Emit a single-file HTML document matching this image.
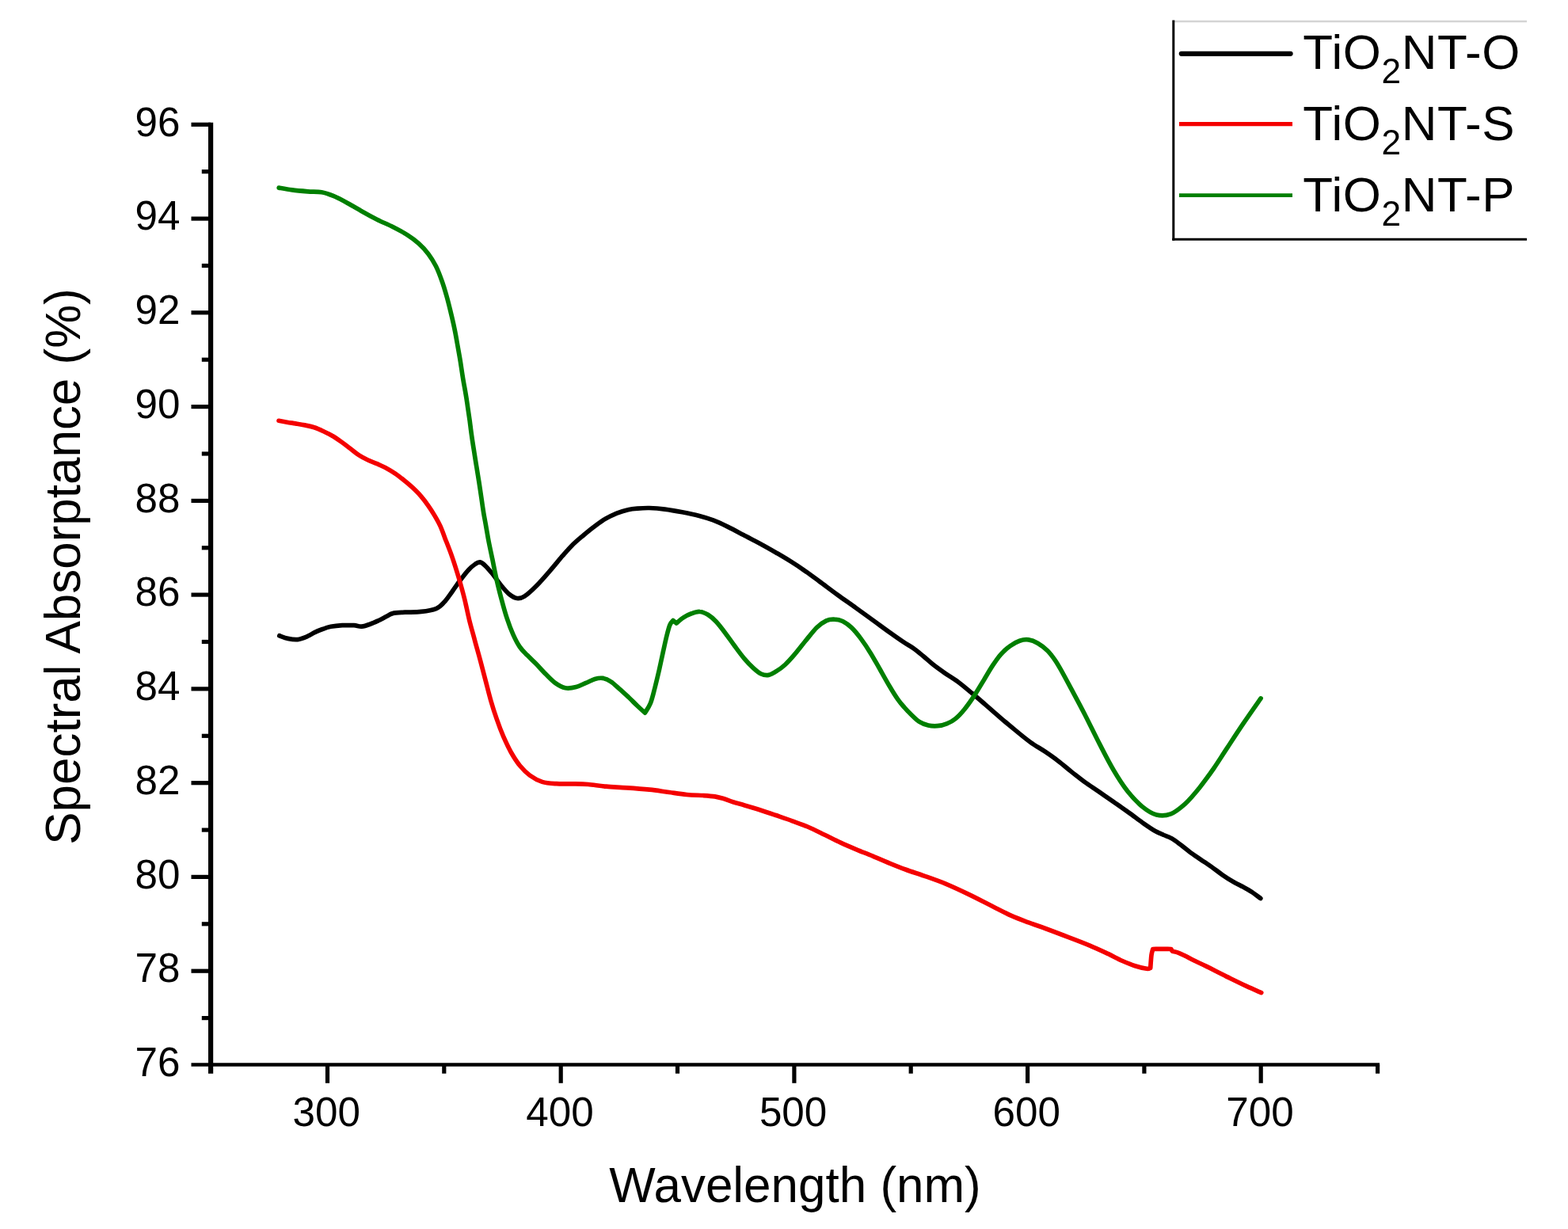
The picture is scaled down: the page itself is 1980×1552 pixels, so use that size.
<!DOCTYPE html>
<html><head><meta charset="utf-8"><title>Spectral Absorptance</title>
<style>
html,body{margin:0;padding:0;background:#fff;}
svg{display:block;}
text{font-family:"Liberation Sans",Arial,Helvetica,sans-serif;fill:#000;}
</style></head><body>
<svg width="1980" height="1552" viewBox="0 0 1980 1552">
<rect x="0" y="0" width="1980" height="1552" fill="#fff"/>
<g fill="none" stroke-linejoin="round" stroke-linecap="round">
<path d="M352.8,802.8 C354.6,803.4 359.6,805.6 363.5,806.4 C367.3,807.2 371.7,808.1 375.8,807.6 C379.9,807.2 384.4,805.2 388.0,803.7 C391.6,802.2 394.0,800.2 397.3,798.6 C400.6,797.0 404.5,795.5 407.9,794.3 C411.3,793.0 413.7,792.1 417.7,791.3 C421.8,790.6 427.4,790.0 432.2,789.7 C437.1,789.5 442.9,789.5 446.9,789.7 C451.0,789.9 453.2,791.4 456.7,791.1 C460.2,790.8 464.2,789.3 467.8,788.0 C471.4,786.8 474.9,785.1 478.3,783.5 C481.8,781.8 485.4,779.7 488.3,778.2 C491.2,776.8 491.9,775.4 495.8,774.6 C499.7,773.7 505.4,773.6 511.4,773.2 C517.4,772.9 525.3,773.2 531.8,772.4 C538.4,771.7 545.9,770.6 550.8,768.6 C555.6,766.6 557.6,763.9 561.0,760.3 C564.3,756.8 567.5,751.8 570.9,747.2 C574.3,742.5 577.8,737.1 581.3,732.5 C584.8,728.0 588.5,723.0 591.6,719.7 C594.7,716.3 597.5,714.1 599.9,712.5 C602.3,710.8 603.8,709.6 606.0,709.9 C608.1,710.3 610.0,711.8 612.7,714.3 C615.4,716.8 618.8,720.9 622.2,725.0 C625.5,729.2 629.3,735.0 632.8,739.2 C636.3,743.5 639.9,747.8 643.2,750.5 C646.6,753.2 649.6,755.1 652.8,755.5 C656.1,755.9 658.7,755.3 662.6,752.8 C666.6,750.4 671.2,746.0 676.4,740.8 C681.6,735.6 688.0,728.3 693.6,721.8 C699.2,715.4 705.3,707.8 710.1,702.2 C715.0,696.6 718.5,692.5 722.6,688.4 C726.8,684.3 730.6,681.2 734.8,677.6 C739.0,674.1 743.0,670.6 747.8,667.0 C752.5,663.4 758.0,659.1 763.2,655.9 C768.3,652.8 773.9,650.2 778.9,648.1 C783.9,646.1 788.7,644.7 793.1,643.7 C797.4,642.6 800.5,642.4 805.0,642.1 C809.5,641.7 814.2,641.4 820.0,641.5 C825.8,641.7 832.6,642.2 839.6,643.1 C846.5,644.0 854.5,645.4 861.6,646.7 C868.7,648.1 875.7,649.5 882.2,651.2 C888.7,652.9 894.5,654.6 900.6,656.9 C906.7,659.2 912.5,662.0 918.8,665.1 C925.2,668.2 931.9,671.9 938.8,675.6 C945.8,679.3 953.5,683.2 960.6,687.0 C967.8,690.9 975.3,695.2 981.6,698.8 C987.9,702.5 992.8,705.4 998.4,708.9 C1004.0,712.4 1008.9,715.6 1014.9,719.8 C1021.0,724.0 1027.4,728.8 1034.6,734.1 C1041.8,739.4 1050.5,746.0 1058.2,751.6 C1065.9,757.2 1073.2,762.1 1080.9,767.7 C1088.6,773.2 1097.1,779.4 1104.4,784.8 C1111.7,790.1 1118.8,795.4 1124.9,799.7 C1130.9,804.0 1136.0,807.6 1140.7,810.7 C1145.3,813.8 1148.8,815.5 1153.0,818.4 C1157.2,821.4 1161.6,825.1 1165.8,828.5 C1170.0,832.0 1173.6,835.5 1178.1,839.0 C1182.6,842.6 1187.6,846.1 1192.9,849.8 C1198.2,853.5 1204.2,857.0 1210.0,861.2 C1215.7,865.5 1221.7,870.6 1227.3,875.3 C1232.9,880.0 1238.0,884.4 1243.8,889.4 C1249.6,894.4 1255.8,899.9 1262.1,905.3 C1268.4,910.8 1275.2,916.6 1281.8,921.9 C1288.3,927.3 1295.1,932.9 1301.4,937.5 C1307.8,942.0 1313.9,945.3 1319.7,949.2 C1325.5,953.1 1330.8,956.8 1336.2,961.0 C1341.7,965.1 1346.8,969.6 1352.4,974.1 C1358.1,978.5 1364.1,983.3 1370.0,987.7 C1376.0,992.0 1382.2,995.9 1388.2,1000.1 C1394.2,1004.3 1400.0,1008.3 1406.2,1012.6 C1412.3,1016.9 1418.9,1021.5 1425.0,1025.9 C1431.1,1030.2 1437.0,1034.8 1442.5,1038.7 C1448.1,1042.6 1453.8,1046.6 1458.3,1049.2 C1462.8,1051.8 1466.0,1052.9 1469.5,1054.5 C1473.0,1056.0 1475.8,1056.7 1479.1,1058.6 C1482.4,1060.4 1485.4,1062.7 1489.2,1065.6 C1493.1,1068.5 1498.0,1072.5 1502.5,1075.9 C1507.0,1079.2 1511.8,1082.4 1516.4,1085.6 C1521.0,1088.7 1525.5,1091.5 1530.0,1094.7 C1534.5,1097.9 1539.0,1101.6 1543.6,1104.8 C1548.2,1108.0 1553.3,1111.2 1557.7,1113.7 C1562.0,1116.3 1566.1,1118.0 1569.9,1120.1 C1573.7,1122.2 1577.0,1124.0 1580.7,1126.4 C1584.3,1128.8 1589.9,1133.1 1591.8,1134.5" stroke="#000" stroke-width="5.7"/>
<path d="M352.0,531.3 C353.8,531.6 359.0,532.6 362.5,533.2 C366.0,533.8 369.6,534.3 373.3,534.9 C377.0,535.5 381.0,536.1 384.9,536.9 C388.8,537.7 393.0,538.4 396.8,539.7 C400.7,541.0 404.3,542.7 408.0,544.5 C411.8,546.3 415.6,548.0 419.4,550.3 C423.2,552.5 426.9,555.1 430.7,557.8 C434.5,560.4 438.3,563.5 442.1,566.3 C445.9,569.2 449.6,572.5 453.4,574.9 C457.2,577.4 460.9,579.2 464.7,581.0 C468.5,582.8 472.3,584.0 476.1,585.7 C479.9,587.4 483.6,589.0 487.4,591.0 C491.2,593.1 495.0,595.3 498.8,597.8 C502.6,600.4 506.5,603.5 510.2,606.5 C514.0,609.5 517.6,612.6 521.2,615.9 C524.8,619.3 528.3,622.7 531.6,626.6 C535.0,630.5 538.4,635.1 541.3,639.3 C544.3,643.5 546.9,647.8 549.3,651.9 C551.7,656.1 553.7,659.3 555.9,664.2 C558.1,669.1 560.1,674.7 562.6,681.4 C565.2,688.0 568.4,695.9 571.2,704.1 C574.0,712.3 576.9,721.6 579.5,730.3 C582.0,739.0 584.4,747.6 586.6,756.4 C588.8,765.3 590.6,774.6 592.7,783.3 C594.9,792.1 597.3,800.3 599.6,808.9 C601.9,817.5 604.5,826.3 606.7,834.8 C609.0,843.3 611.1,851.7 613.3,860.0 C615.5,868.3 617.5,876.8 619.8,884.7 C622.1,892.7 624.5,900.3 627.2,907.9 C629.8,915.5 632.7,923.2 635.7,930.2 C638.8,937.2 641.8,943.8 645.3,950.0 C648.8,956.1 652.6,962.2 656.6,967.0 C660.6,971.9 664.5,975.8 669.2,979.2 C673.9,982.6 679.1,985.6 684.7,987.4 C690.3,989.1 696.2,989.3 702.7,989.7 C709.2,990.1 717.3,989.7 723.9,989.9 C730.6,990.0 735.8,990.0 742.7,990.5 C749.6,991.1 757.3,992.5 765.5,993.2 C773.6,993.9 782.5,994.1 791.6,994.8 C800.7,995.4 811.3,996.2 820.2,997.2 C829.1,998.1 837.1,999.5 845.0,1000.5 C852.8,1001.6 860.1,1002.8 867.2,1003.5 C874.3,1004.2 881.8,1004.2 887.7,1004.5 C893.6,1004.9 898.3,1005.2 902.7,1005.9 C907.2,1006.6 910.6,1007.7 914.4,1008.8 C918.3,1010.0 921.3,1011.5 925.6,1012.8 C929.9,1014.2 934.7,1015.3 940.2,1016.9 C945.8,1018.5 952.3,1020.4 958.7,1022.5 C965.2,1024.6 971.9,1026.9 978.9,1029.3 C985.9,1031.7 993.6,1034.2 1000.6,1036.8 C1007.6,1039.3 1014.1,1041.6 1020.9,1044.5 C1027.7,1047.4 1034.6,1051.0 1041.4,1054.3 C1048.2,1057.6 1054.8,1061.1 1061.6,1064.2 C1068.4,1067.4 1075.3,1070.3 1082.1,1073.1 C1088.8,1075.9 1095.5,1078.3 1102.1,1081.1 C1108.7,1083.8 1114.9,1086.6 1121.8,1089.5 C1128.6,1092.3 1135.8,1095.3 1143.4,1098.0 C1150.9,1100.8 1158.6,1103.1 1167.1,1106.1 C1175.6,1109.1 1184.9,1112.3 1194.2,1116.1 C1203.4,1120.0 1212.9,1124.4 1222.7,1129.1 C1232.6,1133.8 1244.2,1140.0 1253.2,1144.5 C1262.2,1149.0 1269.2,1152.8 1276.6,1156.2 C1284.1,1159.5 1290.5,1161.9 1297.9,1164.7 C1305.2,1167.4 1312.1,1169.6 1320.7,1172.7 C1329.3,1175.9 1340.2,1180.0 1349.4,1183.6 C1358.7,1187.1 1367.9,1190.6 1376.2,1194.1 C1384.6,1197.6 1392.8,1201.5 1399.7,1204.7 C1406.5,1208.0 1411.8,1211.0 1417.4,1213.5 C1423.0,1215.9 1428.1,1218.0 1433.2,1219.7 C1438.3,1221.3 1444.6,1222.8 1447.9,1223.3 C1451.2,1223.8 1451.9,1222.6 1452.7,1222.5 C1452.9,1219.8 1453.5,1210.0 1454.0,1206.0 C1454.5,1202.0 1455.5,1199.8 1455.8,1198.5 C1457.7,1198.5 1463.2,1198.3 1467.0,1198.3 C1470.8,1198.3 1476.8,1198.5 1478.8,1198.5 C1479.1,1199.0 1480.2,1200.8 1480.5,1201.3 C1481.8,1201.6 1485.5,1202.2 1488.4,1203.3 C1491.2,1204.3 1494.4,1206.0 1497.5,1207.5 C1500.6,1209.1 1502.5,1210.4 1506.9,1212.5 C1511.2,1214.7 1516.5,1216.9 1523.5,1220.4 C1530.4,1223.8 1540.3,1229.0 1548.6,1233.1 C1557.0,1237.2 1566.3,1241.8 1573.6,1245.2 C1581.0,1248.6 1589.5,1252.2 1592.7,1253.6" stroke="#f40000" stroke-width="5.7"/>
<path d="M352.2,237.1 C355.0,237.6 362.8,239.2 368.9,239.9 C375.0,240.7 382.4,241.3 388.7,241.8 C394.9,242.3 400.8,241.7 406.1,242.7 C411.5,243.6 415.8,245.3 420.9,247.4 C426.1,249.6 431.3,252.3 437.1,255.4 C442.9,258.6 449.3,262.6 455.8,266.2 C462.3,269.9 469.4,273.8 476.1,277.2 C482.9,280.6 490.1,283.5 496.5,286.8 C502.9,290.1 509.3,293.4 514.6,296.8 C520.0,300.2 524.2,303.4 528.6,307.4 C533.0,311.3 537.2,315.9 540.9,320.7 C544.5,325.5 547.5,330.4 550.4,336.0 C553.2,341.6 555.6,348.0 557.9,354.5 C560.3,361.0 562.3,368.0 564.2,374.8 C566.1,381.6 567.8,388.7 569.4,395.2 C571.0,401.8 572.4,407.6 573.7,414.1 C575.1,420.5 576.2,426.8 577.4,433.9 C578.7,441.1 580.1,449.0 581.4,456.7 C582.6,464.5 583.9,473.7 585.1,480.7 C586.3,487.7 587.4,493.0 588.3,498.7 C589.3,504.3 589.9,509.1 590.7,514.6 C591.5,520.1 592.3,525.5 593.2,531.6 C594.0,537.8 594.8,545.0 595.8,551.5 C596.7,558.1 597.8,564.4 598.8,570.9 C599.8,577.3 600.8,583.8 601.9,590.2 C602.9,596.6 604.0,603.1 605.0,609.5 C606.0,616.0 606.9,622.4 607.9,628.9 C608.8,635.4 609.8,642.3 610.8,648.5 C611.9,654.8 613.0,660.3 614.0,666.2 C615.1,672.2 615.9,677.8 617.2,684.3 C618.5,690.9 620.0,697.8 621.7,705.7 C623.3,713.5 625.0,722.9 627.0,731.5 C628.9,740.0 631.1,748.7 633.3,757.0 C635.5,765.2 637.8,773.8 640.3,781.2 C642.7,788.6 645.3,795.4 648.0,801.4 C650.7,807.4 653.4,812.7 656.4,817.0 C659.4,821.4 662.6,824.1 666.0,827.6 C669.4,831.2 673.0,834.3 676.7,838.1 C680.4,841.9 684.3,846.3 688.3,850.4 C692.4,854.4 696.7,859.3 701.0,862.3 C705.3,865.4 709.5,867.9 713.9,868.8 C718.3,869.6 723.1,868.7 727.5,867.6 C731.8,866.5 736.0,864.0 739.9,862.4 C743.9,860.7 747.7,858.5 751.2,857.5 C754.7,856.5 757.6,855.9 760.9,856.4 C764.2,856.9 767.6,858.3 771.1,860.6 C774.7,862.8 778.4,866.6 782.1,869.9 C785.9,873.2 789.9,876.9 793.8,880.5 C797.6,884.1 801.5,888.2 805.0,891.5 C808.5,894.8 812.9,898.8 814.5,900.2 C815.6,898.2 819.3,893.2 821.4,888.0 C823.5,882.8 825.0,876.0 826.8,869.1 C828.6,862.1 830.5,854.1 832.3,846.4 C834.0,838.7 835.8,830.0 837.4,822.9 C839.0,815.7 840.4,809.0 841.8,803.4 C843.2,797.8 844.5,792.4 845.9,789.1 C847.3,785.8 849.3,784.5 850.0,783.6 C850.7,784.2 853.4,786.4 854.1,787.0 C855.6,785.8 859.8,781.9 863.0,779.9 C866.2,777.8 869.7,776.0 873.2,774.8 C876.7,773.5 880.3,772.2 883.7,772.5 C887.2,772.7 890.5,774.2 894.0,776.3 C897.4,778.4 900.7,781.2 904.3,785.0 C907.9,788.8 911.8,794.0 915.7,799.2 C919.6,804.3 923.7,810.4 927.7,815.8 C931.7,821.2 935.8,826.9 939.8,831.6 C943.7,836.2 947.7,840.3 951.3,843.6 C954.8,846.8 957.9,849.5 961.1,851.0 C964.3,852.5 967.4,853.0 970.7,852.4 C974.0,851.8 977.3,849.6 980.7,847.4 C984.2,845.3 987.6,842.9 991.3,839.5 C995.0,836.1 998.7,831.9 1003.0,826.9 C1007.3,821.9 1012.5,815.0 1017.2,809.3 C1022.0,803.5 1027.3,796.5 1031.6,792.3 C1036.0,788.0 1039.7,785.5 1043.4,783.8 C1047.0,782.1 1050.2,781.9 1053.6,782.1 C1057.0,782.2 1060.5,782.8 1064.1,784.5 C1067.6,786.3 1071.3,788.8 1075.1,792.4 C1078.9,796.0 1082.8,800.8 1086.8,806.1 C1090.8,811.5 1095.1,817.8 1099.1,824.4 C1103.2,830.9 1107.0,838.1 1111.2,845.3 C1115.3,852.6 1120.2,861.5 1124.0,867.8 C1127.7,874.1 1130.7,878.9 1133.7,883.1 C1136.6,887.3 1139.0,890.0 1141.7,893.0 C1144.3,896.1 1146.5,898.4 1149.7,901.5 C1152.9,904.5 1157.1,909.0 1160.8,911.4 C1164.5,913.8 1168.3,915.1 1172.2,916.0 C1176.0,916.9 1180.0,917.0 1183.9,916.7 C1187.8,916.4 1191.8,915.5 1195.6,913.9 C1199.4,912.4 1202.8,910.7 1206.5,907.6 C1210.2,904.6 1213.9,900.6 1217.9,895.7 C1221.8,890.9 1226.1,884.8 1230.2,878.6 C1234.3,872.3 1238.8,864.5 1242.7,858.2 C1246.5,851.8 1250.0,845.7 1253.5,840.4 C1257.0,835.1 1260.1,830.5 1263.8,826.3 C1267.5,822.2 1271.7,818.5 1275.6,815.7 C1279.6,812.8 1283.7,810.5 1287.5,809.2 C1291.4,807.9 1295.0,807.4 1298.8,807.9 C1302.7,808.4 1306.4,809.9 1310.4,812.2 C1314.4,814.5 1319.1,818.1 1322.8,821.7 C1326.4,825.3 1329.4,829.5 1332.4,833.8 C1335.4,838.2 1337.4,841.8 1340.8,847.8 C1344.1,853.8 1347.9,860.8 1352.7,869.9 C1357.5,878.9 1363.8,890.5 1369.7,902.0 C1375.6,913.5 1382.1,927.1 1388.2,938.9 C1394.3,950.7 1400.2,962.6 1406.3,972.7 C1412.3,982.9 1418.3,992.1 1424.3,999.8 C1430.4,1007.4 1436.4,1013.7 1442.4,1018.6 C1448.4,1023.5 1454.4,1027.4 1460.4,1029.0 C1466.4,1030.5 1472.4,1030.2 1478.4,1027.9 C1484.4,1025.6 1490.4,1020.6 1496.5,1015.2 C1502.5,1009.7 1508.5,1002.4 1514.5,995.0 C1520.6,987.5 1526.6,979.0 1532.6,970.5 C1538.5,961.9 1543.9,953.1 1550.2,943.7 C1556.4,934.2 1563.0,924.0 1570.0,913.7 C1577.0,903.4 1588.4,887.2 1592.1,881.9" stroke="#007f00" stroke-width="5.7"/>
</g>
<g stroke="#000" fill="none" stroke-linecap="butt">
<line x1="266.1" y1="154.7" x2="266.1" y2="1355.7" stroke-width="6.2"/>
<line x1="241.5" y1="1344.5" x2="1742.1" y2="1344.5" stroke-width="4.7"/>
<line x1="254.8" y1="1285.6" x2="266.1" y2="1285.6" stroke-width="5.2"/>
<line x1="241.5" y1="1226.2" x2="266.1" y2="1226.2" stroke-width="5.2"/>
<line x1="254.8" y1="1166.8" x2="266.1" y2="1166.8" stroke-width="5.2"/>
<line x1="241.5" y1="1107.4" x2="266.1" y2="1107.4" stroke-width="5.2"/>
<line x1="254.8" y1="1048.1" x2="266.1" y2="1048.1" stroke-width="5.2"/>
<line x1="241.5" y1="988.7" x2="266.1" y2="988.7" stroke-width="5.2"/>
<line x1="254.8" y1="929.3" x2="266.1" y2="929.3" stroke-width="5.2"/>
<line x1="241.5" y1="869.9" x2="266.1" y2="869.9" stroke-width="5.2"/>
<line x1="254.8" y1="810.5" x2="266.1" y2="810.5" stroke-width="5.2"/>
<line x1="241.5" y1="751.1" x2="266.1" y2="751.1" stroke-width="5.2"/>
<line x1="254.8" y1="691.8" x2="266.1" y2="691.8" stroke-width="5.2"/>
<line x1="241.5" y1="632.4" x2="266.1" y2="632.4" stroke-width="5.2"/>
<line x1="254.8" y1="573.0" x2="266.1" y2="573.0" stroke-width="5.2"/>
<line x1="241.5" y1="513.6" x2="266.1" y2="513.6" stroke-width="5.2"/>
<line x1="254.8" y1="454.2" x2="266.1" y2="454.2" stroke-width="5.2"/>
<line x1="241.5" y1="394.8" x2="266.1" y2="394.8" stroke-width="5.2"/>
<line x1="254.8" y1="335.5" x2="266.1" y2="335.5" stroke-width="5.2"/>
<line x1="241.5" y1="276.1" x2="266.1" y2="276.1" stroke-width="5.2"/>
<line x1="254.8" y1="216.7" x2="266.1" y2="216.7" stroke-width="5.2"/>
<line x1="241.5" y1="157.3" x2="266.1" y2="157.3" stroke-width="5.2"/>
<line x1="413.5" y1="1344.5" x2="413.5" y2="1367.8" stroke-width="5.2"/>
<line x1="560.8" y1="1344.5" x2="560.8" y2="1355.7" stroke-width="5.2"/>
<line x1="708.2" y1="1344.5" x2="708.2" y2="1367.8" stroke-width="5.2"/>
<line x1="855.5" y1="1344.5" x2="855.5" y2="1355.7" stroke-width="5.2"/>
<line x1="1002.9" y1="1344.5" x2="1002.9" y2="1367.8" stroke-width="5.2"/>
<line x1="1150.2" y1="1344.5" x2="1150.2" y2="1355.7" stroke-width="5.2"/>
<line x1="1297.6" y1="1344.5" x2="1297.6" y2="1367.8" stroke-width="5.2"/>
<line x1="1444.9" y1="1344.5" x2="1444.9" y2="1355.7" stroke-width="5.2"/>
<line x1="1592.2" y1="1344.5" x2="1592.2" y2="1367.8" stroke-width="5.2"/>
<line x1="1739.6" y1="1344.5" x2="1739.6" y2="1355.7" stroke-width="5.2"/>
</g>
<g font-size="52">
<text transform="translate(227.4,1359.2) scale(0.985,1)" text-anchor="end">76</text>
<text transform="translate(227.4,1240.4) scale(0.985,1)" text-anchor="end">78</text>
<text transform="translate(227.4,1121.6) scale(0.985,1)" text-anchor="end">80</text>
<text transform="translate(227.4,1002.9) scale(0.985,1)" text-anchor="end">82</text>
<text transform="translate(227.4,884.1) scale(0.985,1)" text-anchor="end">84</text>
<text transform="translate(227.4,765.3) scale(0.985,1)" text-anchor="end">86</text>
<text transform="translate(227.4,646.6) scale(0.985,1)" text-anchor="end">88</text>
<text transform="translate(227.4,527.8) scale(0.985,1)" text-anchor="end">90</text>
<text transform="translate(227.4,409.0) scale(0.985,1)" text-anchor="end">92</text>
<text transform="translate(227.4,290.3) scale(0.985,1)" text-anchor="end">94</text>
<text transform="translate(227.4,171.5) scale(0.985,1)" text-anchor="end">96</text>
<text transform="translate(412.2,1421.8) scale(0.985,1)" text-anchor="middle">300</text>
<text transform="translate(706.9,1421.8) scale(0.985,1)" text-anchor="middle">400</text>
<text transform="translate(1001.6,1421.8) scale(0.985,1)" text-anchor="middle">500</text>
<text transform="translate(1296.3,1421.8) scale(0.985,1)" text-anchor="middle">600</text>
<text transform="translate(1591.0,1421.8) scale(0.985,1)" text-anchor="middle">700</text>
</g>
<text transform="translate(1004,1517.6) scale(0.976,1)" font-size="63.5" text-anchor="middle">Wavelength (nm)</text>
<text transform="translate(100.5,715.4) rotate(-90) scale(0.976,1)" font-size="63.5" text-anchor="middle">Spectral Absorptance (%)</text>
<g stroke-linecap="butt">
<line x1="1482" y1="27" x2="1928" y2="27" stroke="#d4d4d4" stroke-width="2.5"/>
<line x1="1481.8" y1="25.5" x2="1481.8" y2="303.7" stroke="#000" stroke-width="3"/>
<line x1="1480.3" y1="302.3" x2="1928" y2="302.3" stroke="#000" stroke-width="3"/>
<line x1="1491.8" y1="67.8" x2="1629.6" y2="67.8" stroke="#000" stroke-width="6.2" stroke-linecap="round"/>
<line x1="1489" y1="156.7" x2="1632" y2="156.7" stroke="#f40000" stroke-width="5.2"/>
<line x1="1489" y1="246.6" x2="1632" y2="246.6" stroke="#007f00" stroke-width="4.8"/>
</g>
<g font-size="61.5" letter-spacing="0.6">
<text transform="translate(1645.3,87.4) scale(1.006,1)">TiO<tspan font-size="44" dy="17.5">2</tspan><tspan dy="-17.5">NT-O</tspan></text>
<text transform="translate(1645.3,177.3) scale(1.006,1)">TiO<tspan font-size="44" dy="17.5">2</tspan><tspan dy="-17.5">NT-S</tspan></text>
<text transform="translate(1645.3,267.0) scale(1.006,1)">TiO<tspan font-size="44" dy="17.5">2</tspan><tspan dy="-17.5">NT-P</tspan></text>
</g>
</svg>
</body></html>
